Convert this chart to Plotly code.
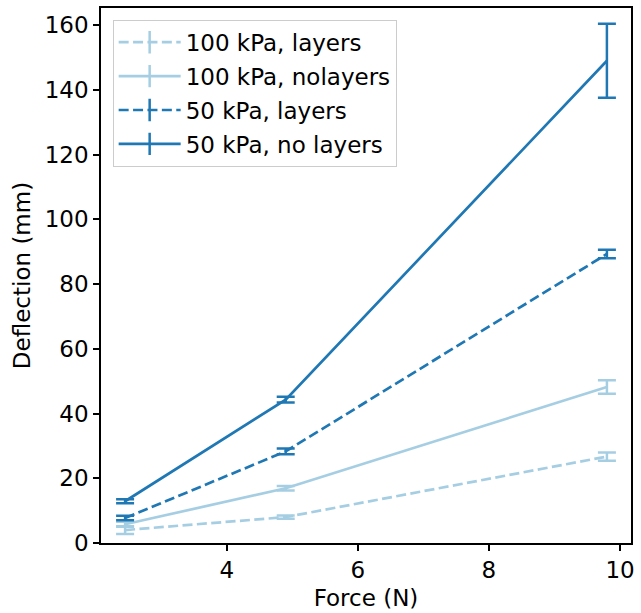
import plotly.graph_objects as go

force = [2.45, 4.9, 9.8]

names = ["100 kPa, layers", "100 kPa, nolayers", "50 kPa, layers", "50 kPa, no layers"]
means_100_layers = [4.0, 8.0, 26.7]
err_100_layers = [1.2, 0.5, 1.3]
means_100_nolayers = [5.8, 16.9, 48.2]
err_100_nolayers = [0.8, 0.7, 2.1]
means_50_layers = [7.7, 28.3, 89.3]
err_50_layers = [0.7, 0.9, 1.3]
means_50_nolayers = [12.9, 44.3, 149.0]
err_50_nolayers = [0.6, 0.9, 11.4]

light = "#a6cee3"
dark = "#1f78b4"
dash = "10px,4.4px"

series = [
    (names[0], means_100_layers, err_100_layers, light, dash),
    (names[1], means_100_nolayers, err_100_nolayers, light, "solid"),
    (names[2], means_50_layers, err_50_layers, dark, dash),
    (names[3], means_50_nolayers, err_50_nolayers, dark, "solid"),
]

fig = go.Figure()
for name, m, e, c, d in series:
    fig.add_trace(go.Scatter(
        x=force, y=m, mode="lines", name=name, showlegend=False,
        line=dict(color=c, width=2.7, dash=d),
        error_y=dict(type="data", array=e, visible=True, color=c, thickness=2.5, width=9),
    ))
for i, (name, m, e, c, d) in enumerate(series):
    fig.add_trace(go.Scatter(
        x=[None], y=[None], mode="lines+markers", name=name, legendgroup=f"g{i}",
        line=dict(color=c, width=2.7, dash=d),
        marker=dict(symbol="line-ns", size=20, line=dict(color=c, width=2.5)),
    ))

font = "DejaVu Sans"
fs = 23
fig.update_layout(
    width=641, height=613,
    margin=dict(l=101, r=6, t=7, b=70),
    plot_bgcolor="white", paper_bgcolor="white",
    font=dict(family=font, size=fs, color="black"),
    legend=dict(
        x=0.022, y=0.978, xanchor="left", yanchor="top",
        bgcolor="white", bordercolor="#cccccc", borderwidth=1,
        font=dict(family=font, size=fs), itemwidth=62, tracegroupgap=1,
    ),
    xaxis=dict(
        range=[2.0825, 10.1675], tickvals=[4, 6, 8, 10],
        showgrid=False, zeroline=False, showline=True, linecolor="black", linewidth=1.5,
        mirror=True, ticks="outside", ticklen=6, tickwidth=1.5, tickcolor="black",
        title=dict(text="Force (N)", font=dict(size=fs), standoff=8),
        tickfont=dict(size=fs),
    ),
    yaxis=dict(
        range=[0, 165.3], tickvals=[0, 20, 40, 60, 80, 100, 120, 140, 160],
        showgrid=False, zeroline=False, showline=True, linecolor="black", linewidth=1.5,
        mirror=True, ticks="outside", ticklen=6, tickwidth=1.5, tickcolor="black",
        title=dict(text="Deflection (mm)", font=dict(size=fs), standoff=8),
        tickfont=dict(size=fs),
    ),
)

fig.write_html("out.html")
